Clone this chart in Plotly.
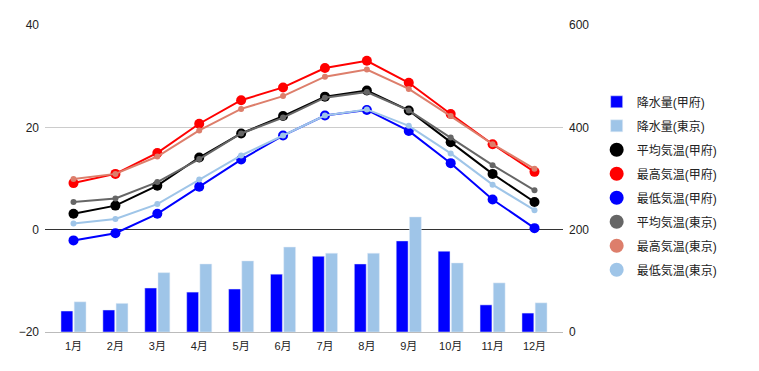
import plotly.graph_objects as go

months = ["1月", "2月", "3月", "4月", "5月", "6月", "7月", "8月", "9月", "10月", "11月", "12月"]
precip_kofu = [41, 43, 86, 78, 84, 113, 148, 133, 178, 158, 53, 37]
precip_tokyo = [59, 56, 116, 133, 139, 166, 154, 154, 225, 135, 96, 57]
mean_kofu = [3.1, 4.7, 8.6, 14.1, 18.8, 22.2, 26.0, 27.2, 23.3, 17.1, 10.9, 5.4]
max_kofu = [9.1, 10.9, 15.0, 20.7, 25.3, 27.8, 31.6, 33.0, 28.7, 22.6, 16.7, 11.3]
min_kofu = [-2.1, -0.7, 3.1, 8.4, 13.7, 18.4, 22.3, 23.4, 19.3, 13.0, 5.9, 0.3]
mean_tokyo = [5.4, 6.1, 9.3, 13.8, 18.8, 21.9, 25.8, 26.9, 23.3, 18.0, 12.6, 7.7]
max_tokyo = [9.9, 10.9, 14.3, 19.4, 23.6, 26.1, 29.9, 31.3, 27.5, 22.2, 16.7, 11.9]
min_tokyo = [1.2, 2.1, 5.0, 9.8, 14.5, 18.4, 22.3, 23.5, 20.3, 14.9, 8.8, 3.8]

FONT = "Arial, Liberation Sans, Noto Sans CJK JP, sans-serif"

fig = go.Figure()

# bars (precipitation) on right axis
fig.add_trace(go.Bar(x=months, y=precip_kofu, name="降水量(甲府)", marker_color="#0000ff",
                     yaxis="y2", legendgroup="a", hoverinfo="skip"))
fig.add_trace(go.Bar(x=months, y=precip_tokyo, name="降水量(東京)", marker_color="#9fc5e8",
                     yaxis="y2", legendgroup="b", hoverinfo="skip"))

lines = [
    ("平均気温(甲府)", mean_kofu, "#000000", 10, "c"),
    ("最高気温(甲府)", max_kofu, "#ff0000", 10, "d"),
    ("最低気温(甲府)", min_kofu, "#0000ff", 10, "e"),
    ("平均気温(東京)", mean_tokyo, "#666666", 6, "f"),
    ("最高気温(東京)", max_tokyo, "#dd7e6b", 6, "g"),
    ("最低気温(東京)", min_tokyo, "#9fc5e8", 6, "h"),
]
for name, vals, col, sz, grp in lines:
    fig.add_trace(go.Scatter(x=months, y=vals, mode="lines+markers", name=name,
                             line=dict(color=col, width=2),
                             marker=dict(color=col, size=sz),
                             showlegend=False, legendgroup=grp))
# legend entries (circle only)
for name, vals, col, sz, grp in lines:
    fig.add_trace(go.Scatter(x=[None], y=[None], mode="markers", name=name,
                             marker=dict(color=col, size=14),
                             showlegend=True, legendgroup=grp))

fig.update_layout(
    width=759, height=371,
    margin=dict(l=45, r=196, t=25, b=39),
    paper_bgcolor="white", plot_bgcolor="white",
    font=dict(family=FONT, size=12, color="#222222"),
    barmode="group", bargap=0.37, bargroupgap=0.1,
    xaxis=dict(type="category", range=[-0.68, 11.68], showgrid=False,
               showline=True, linecolor="#bbbbbb", linewidth=1, ticks="",
               tickfont=dict(size=11, color="#222222"), ticklabelstandoff=4),
    yaxis=dict(range=[-20, 40], dtick=20, showgrid=True, gridcolor="#cccccc",
               zeroline=True, zerolinecolor="#333333", zerolinewidth=1,
               tickfont=dict(size=12, color="#222222"), ticks="", ticklabelstandoff=5),
    yaxis2=dict(range=[0, 600], dtick=200, overlaying="y", side="right",
                showgrid=False, zeroline=False,
                tickfont=dict(size=12, color="#222222"), ticks="", ticklabelstandoff=5),
    legend=dict(x=1.065, xanchor="left", y=0.797, yanchor="top",
                font=dict(size=12, color="#222222"), tracegroupgap=5,
                itemsizing="trace", bgcolor="rgba(0,0,0,0)"),
)

fig.write_html("out.html", config={"displayModeBar": False},
               post_script="document.body.style.margin='0';document.body.style.overflow='hidden';")
